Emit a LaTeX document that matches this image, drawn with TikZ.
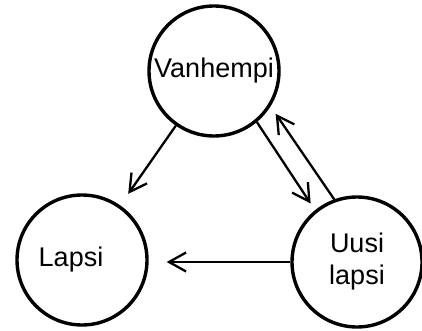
\documentclass[tikz,border=0pt]{standalone}
\usepackage{fontspec}
\setmainfont{Liberation Sans}
\usetikzlibrary{arrows.meta}
\begin{document}
\begin{tikzpicture}[>={Straight Barb[length=17pt,width=19pt]},x=1pt,y=-1pt,
		pallo/.style={draw,circle,line width=3.4pt,minimum size=130pt,inner sep=0pt,align=center,font=\fontsize{27}{32}\selectfont},
		nuoli/.style={->,line width=2.3pt}]
		\useasboundingbox (0,0) rectangle (422,331);
		\node[pallo] (van) at (214,71) {Vanhempi};
		\node[pallo,label={[xshift=-11pt,font=\fontsize{27}{32}\selectfont]center:Lapsi}] (lapsi) at (82,260) {};
		\node[pallo] (uusi) at (357,262) {Uusi\\lapsi};
		\draw[nuoli,shorten >=14pt] (van) -- (lapsi);
		\draw[nuoli,shorten >=18pt] (uusi.west) -- (uusi.west -| lapsi.east);
		\draw[nuoli,shorten >=8pt] (van.-50) -- (uusi.129);
		\draw[nuoli,shorten >=9pt] (uusi.110) -- (van.-32);
		
		\end{tikzpicture}
\end{document}
